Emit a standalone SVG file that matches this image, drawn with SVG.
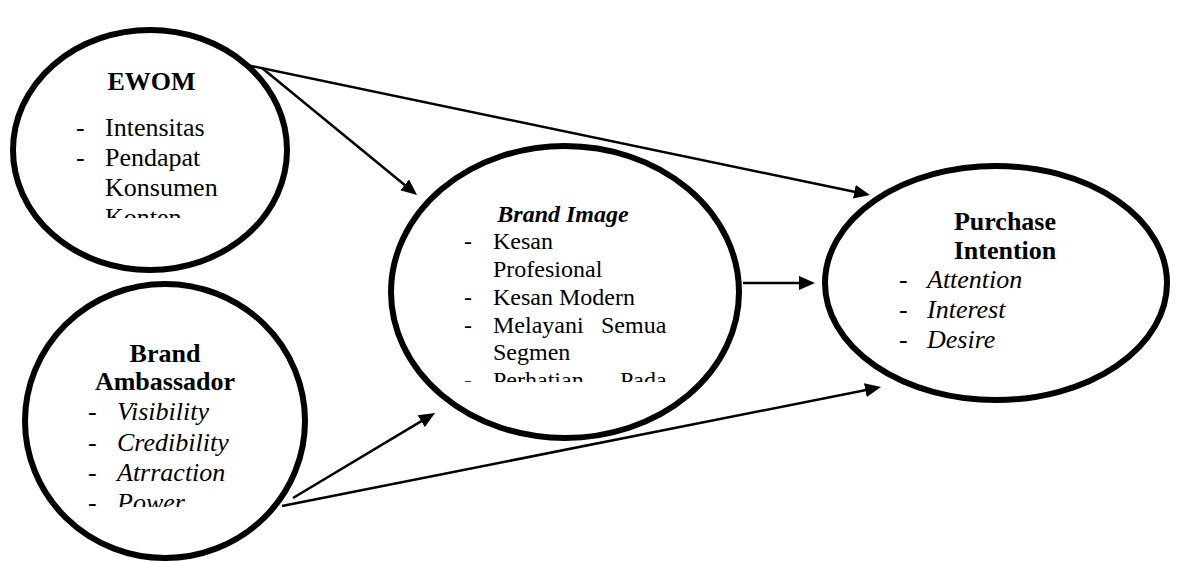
<svg xmlns="http://www.w3.org/2000/svg" width="1191" height="562" viewBox="0 0 1191 562">
<style>
.node{fill:#fff;stroke:#000;stroke-width:6}
.t{font-family:"Liberation Serif","Times New Roman",serif;fill:#000}
.s26{font-size:26px}
.s24{font-size:24px}
.b{font-weight:bold}
.i{font-style:italic}
.m{text-anchor:middle}
.conn{stroke:#000;stroke-width:2.5;fill:none;marker-end:url(#ah)}
</style>
<defs>
<marker id="ah" markerUnits="userSpaceOnUse" markerWidth="16" markerHeight="14" refX="6" refY="7" orient="auto" viewBox="0 0 16 14">
<path d="M0,0 L16,7 L0,14 Z" fill="#000"/>
</marker>
<clipPath id="c1"><rect x="0" y="0" width="400" height="218"/></clipPath>
<clipPath id="c2"><rect x="380" y="100" width="400" height="282"/></clipPath>
<clipPath id="c3"><rect x="0" y="300" width="400" height="207"/></clipPath>
</defs>
<rect width="1191" height="562" fill="#fff"/>
<g id="ewom">
<ellipse class="node" cx="150" cy="150" rx="137" ry="120"/>
<text class="t s26 b m" x="151.5" y="90">EWOM</text>
<g clip-path="url(#c1)" class="t s26">
<text x="76" y="136">-</text><text x="105" y="136">Intensitas</text>
<text x="76" y="166">-</text><text x="105" y="166">Pendapat</text>
<text x="105" y="196">Konsumen</text>
<text x="105" y="226">Konten</text>
</g>
</g>
<g id="brand-ambassador">
<ellipse class="node" cx="165" cy="421" rx="140" ry="137"/>
<text class="t s26 b m" x="165" y="362">Brand</text>
<text class="t s26 b m" x="165" y="390">Ambassador</text>
<g clip-path="url(#c3)" class="t s26">
<text x="88" y="420">-</text><text class="i" x="117" y="420">Visibility</text>
<text x="88" y="451">-</text><text class="i" x="117" y="451">Credibility</text>
<text x="88" y="481">-</text><text class="i" x="117" y="481">Atrraction</text>
<text x="88" y="511">-</text><text class="i" x="117" y="511">Power</text>
</g>
</g>
<g id="brand-image">
<ellipse class="node" cx="565" cy="292" rx="174" ry="146"/>
<text class="t s24 b i m" x="563" y="222">Brand Image</text>
<g clip-path="url(#c2)" class="t s24">
<text x="464" y="249">-</text><text x="493" y="249">Kesan</text>
<text x="493" y="277">Profesional</text>
<text x="464" y="305">-</text><text x="493" y="305">Kesan Modern</text>
<text x="464" y="333">-</text><text x="493" y="333">Melayani</text><text x="601" y="333">Semua</text>
<text x="493" y="360">Segmen</text>
<text x="464" y="388">-</text><text x="493" y="388">Perhatian</text><text x="620" y="388">Pada</text>
</g>
</g>
<g id="purchase-intention">
<ellipse class="node" cx="996" cy="283" rx="171" ry="117"/>
<text class="t s26 b m" x="1005" y="230">Purchase</text>
<text class="t s26 b m" x="1005" y="259">Intention</text>
<g class="t s26">
<text x="899" y="288">-</text><text class="i" x="927" y="288">Attention</text>
<text x="899" y="318">-</text><text class="i" x="927" y="318">Interest</text>
<text x="899" y="348">-</text><text class="i" x="927" y="348">Desire</text>
</g>
</g>
<g id="connectors">
<line class="conn" x1="242" y1="64" x2="860.2" y2="193"/>
<line class="conn" x1="262" y1="68" x2="409.3" y2="188.7"/>
<line class="conn" x1="743" y1="283" x2="805" y2="283"/>
<line class="conn" x1="293" y1="498" x2="426.4" y2="418.1"/>
<line class="conn" x1="282" y1="506" x2="871.2" y2="389"/>
</g>
</svg>
